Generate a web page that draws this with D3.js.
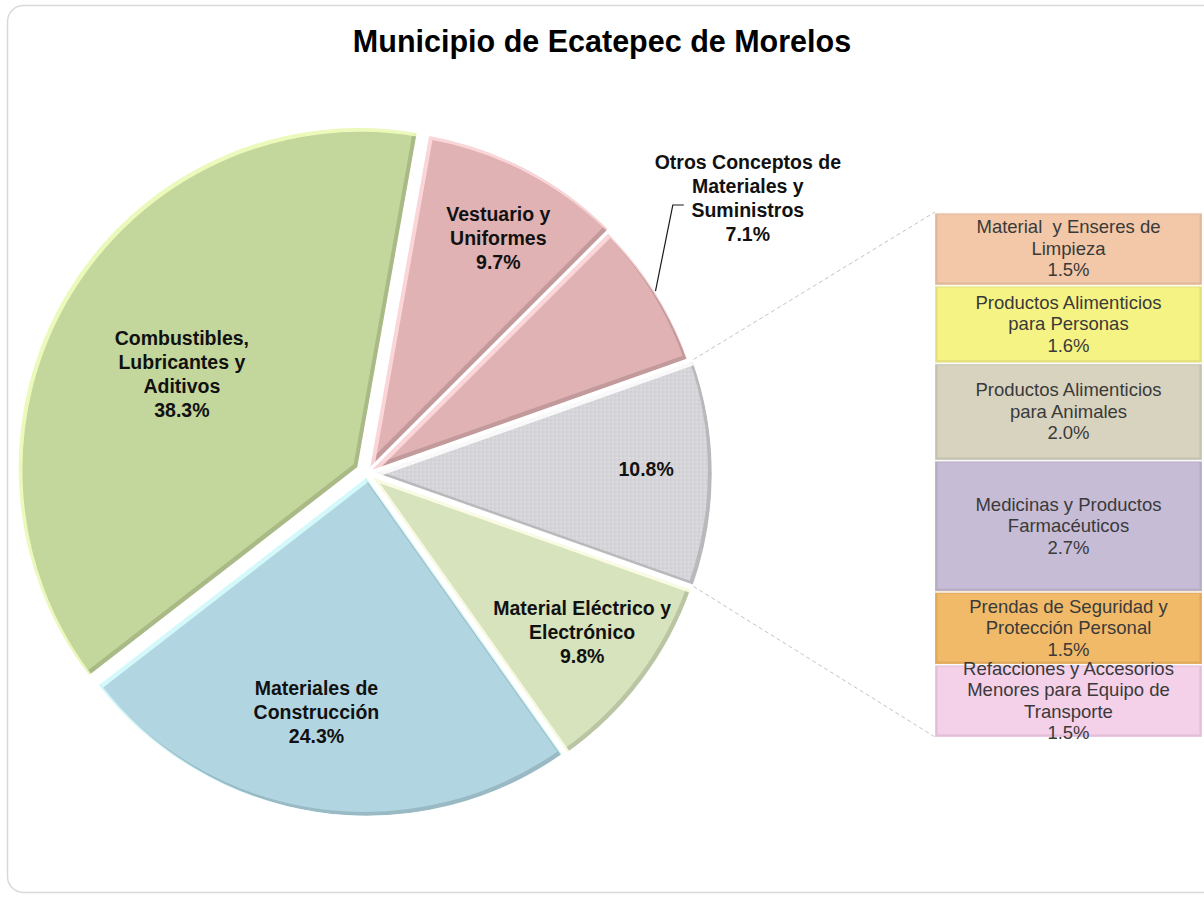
<!DOCTYPE html>
<html lang="es">
<head>
<meta charset="utf-8">
<title>Municipio de Ecatepec de Morelos</title>
<script src="https://cdn.jsdelivr.net/npm/d3@7"></script>
<style>
  html, body { margin: 0; padding: 0; background: #ffffff; }
  svg { display: block; }
  text { font-family: "Liberation Sans", Arial, Helvetica, sans-serif; }
</style>
</head>
<body>
<svg id="chart" width="1204" height="901"></svg>
<script>
// ---- Data ----------------------------------------------------------------
const chartTitle = "Municipio de Ecatepec de Morelos";

// Main pie (percent of total); the "Otros" slice is broken out in the bar
const pieCategories = [
  "Combustibles, Lubricantes y Aditivos",
  "Vestuario y Uniformes",
  "Otros Conceptos de Materiales y Suministros",
  "Otros",
  "Material Eléctrico y Electrónico",
  "Materiales de Construcción"
];
const pieLabelLines = [
  ["Combustibles,", "Lubricantes y", "Aditivos"],
  ["Vestuario y", "Uniformes"],
  ["Otros Conceptos de", "Materiales y", "Suministros"],
  [],
  ["Material Eléctrico y", "Electrónico"],
  ["Materiales de", "Construcción"]
];
const pieValues = [38.3, 9.7, 7.1, 10.8, 9.8, 24.3];
const splitIndex = 3;   // slice expanded into the stacked bar

// Breakdown of the split slice
const barCategories = [
  "Material y Enseres de Limpieza",
  "Productos Alimenticios para Personas",
  "Productos Alimenticios para Animales",
  "Medicinas y Productos Farmacéuticos",
  "Prendas de Seguridad y Protección Personal",
  "Refacciones y Accesorios Menores para Equipo de Transporte"
];
const barLabelLines = [
  ["Material  y Enseres de", "Limpieza"],
  ["Productos Alimenticios", "para Personas"],
  ["Productos Alimenticios", "para Animales"],
  ["Medicinas y Productos", "Farmacéuticos"],
  ["Prendas de Seguridad y", "Protección Personal"],
  ["Refacciones y Accesorios", "Menores para Equipo de", "Transporte"]
];
const barValues = [1.5, 1.6, 2.0, 2.7, 1.5, 1.5];

// ---- Styling / layout ----------------------------------------------------
const pieColors = ["#c3d69b", "#e0b2b3", "#e0b2b3", "#d5d5d9", "#d6e3bc", "#b1d6e1"];
const barColors = ["#f2c8a9", "#f5f384", "#d7d3bf", "#c6bcd6", "#f1ba69", "#f4d0e9"];
const explode = [10, 3, 0, 5, 4, 3];
// label anchor: fraction of radius along slice middle, plus nudges
const labelPlace = [
  { f: 0.605, dx: 0, dy: 13 },
  { f: 0.767, dx: 9, dy: 0 },
  { f: 1.32, dx: 0, dy: -35 },
  { f: 0.804, dx: 0, dy: -4 },
  { f: 0.779, dx: 0, dy: -4 },
  { f: 0.70, dx: -15, dy: 0 }
];

const W = 1204, H = 901;
const cx = 367, cy = 473, R = 341;
const bar = { x0: 935, x1: 1202, y0: 212, y1: 737 };

const svg = d3.select("#chart");
const defs = svg.append("defs");

// chart area frame
svg.append("rect")
  .attr("x", 7.5).attr("y", 5.5).attr("width", 1220).attr("height", 887)
  .attr("rx", 16).attr("fill", "#ffffff").attr("stroke", "#d9d9d9").attr("stroke-width", 1.5);

// title
svg.append("text")
  .attr("x", 602).attr("y", 52)
  .attr("text-anchor", "middle")
  .attr("font-size", 30.5).attr("font-weight", "bold").attr("fill", "#000")
  .text(chartTitle);

// dotted texture for the split slice
const pat = defs.append("pattern").attr("id", "dots")
  .attr("width", 4).attr("height", 4).attr("patternUnits", "userSpaceOnUse");
pat.append("rect").attr("width", 4).attr("height", 4).attr("fill", pieColors[splitIndex]);
pat.append("circle").attr("cx", 1).attr("cy", 1).attr("r", 0.7).attr("fill", "#e6e6ea");
pat.append("circle").attr("cx", 3).attr("cy", 3).attr("r", 0.6).attr("fill", "#c8c8cc");

// ---- Pie -------------------------------------------------------------------
const total = d3.sum(pieValues);
const before = d3.sum(pieValues.slice(0, splitIndex));
// rotate so the split slice is centred on the right-hand side
const a0 = Math.PI / 2 - 2 * Math.PI * (before + pieValues[splitIndex] / 2) / total;

const pie = d3.pie().sort(null).value(d => d).startAngle(a0).endAngle(a0 + 2 * Math.PI);
const arcs = pie(pieValues);
const arcGen = d3.arc().innerRadius(0).outerRadius(R);

const pieG = svg.append("g").attr("transform", `translate(${cx},${cy})`);

const mid = d => (d.startAngle + d.endAngle) / 2;
const offset = (d, i) => {
  const m = mid(d);
  return [Math.sin(m) * explode[i], -Math.cos(m) * explode[i]];
};

arcs.forEach((d, i) => {
  const [ox, oy] = offset(d, i);
  const g = pieG.append("g").attr("transform", `translate(${ox},${oy})`);
  const path = arcGen(d);
  const base = d3.color(pieColors[i]);
  const clipId = "clip" + i;
  defs.append("clipPath").attr("id", clipId)
    .attr("transform", `translate(${cx + ox},${cy + oy})`)
    .append("path").attr("d", path);

  g.append("path").attr("d", path)
    .attr("fill", i === splitIndex ? "url(#dots)" : pieColors[i]);

  // bevel: light rim on upper-left edges, dark rim on lower-right edges
  const bevel = g.append("g").attr("clip-path", `url(#${clipId})`)
    .attr("transform", `translate(${-cx - ox},${-cy - oy})`);
  bevel.append("path").attr("d", path)
    .attr("transform", `translate(${cx + ox - 2},${cy + oy - 2})`)
    .attr("fill", "none").attr("stroke", base.darker(0.55)).attr("stroke-width", 6).attr("stroke-opacity", 0.75);
  bevel.append("path").attr("d", path)
    .attr("transform", `translate(${cx + ox + 2},${cy + oy + 2})`)
    .attr("fill", "none").attr("stroke", base.brighter(0.6)).attr("stroke-width", 6).attr("stroke-opacity", 0.85);

  g.append("path").attr("d", path)
    .attr("fill", "none").attr("stroke", "#ffffff").attr("stroke-width", 2.5)
    .attr("stroke-linejoin", "round");
});

// ---- Pie labels ------------------------------------------------------------
const fmt = v => d3.format(".1f")(v) + "%";
const rowH = 24;
arcs.forEach((d, i) => {
  const [ox, oy] = offset(d, i);
  const p = labelPlace[i];
  const r = R * p.f;
  const [lx, ly] = d3.arc().innerRadius(r).outerRadius(r).centroid(d);
  const x = cx + lx + ox + p.dx;
  const y = cy + ly + oy + p.dy;
  const lines = pieLabelLines[i].concat([fmt(pieValues[i])]);
  const t = svg.append("text")
    .attr("text-anchor", "middle")
    .attr("font-size", 19.5).attr("font-weight", "bold").attr("fill", "#111");
  lines.forEach((s, k) => {
    t.append("tspan").attr("x", x)
      .attr("y", y - (lines.length - 1) * rowH / 2 + k * rowH)
      .attr("dominant-baseline", "central").text(s);
  });

  // leader for the label placed outside the pie
  if (p.f > 1) {
    const m = mid(d);
    const sx = cx + ox + Math.sin(m) * R, sy = cy + oy - Math.cos(m) * R;
    const ey = y - (lines.length - 1) * rowH / 2 + 2 * rowH - 5;
    const ex = x - 75;
    svg.append("path")
      .attr("d", d3.line()([[sx, sy], [ex, ey], [ex + 11, ey]]))
      .attr("fill", "none").attr("stroke", "#1a1a1a").attr("stroke-width", 1.2);
  }
});

// ---- Stacked bar -------------------------------------------------------------
const barSum = d3.sum(barValues);
const yBar = d3.scaleLinear().domain([0, barSum]).range([bar.y0, bar.y1]);
const cum = d3.cumsum(barValues);
const barG = svg.append("g");
barValues.forEach((v, i) => {
  const top = yBar(cum[i] - v), bot = yBar(cum[i]);
  const base = d3.color(barColors[i]);
  barG.append("rect")
    .attr("x", bar.x0).attr("y", top).attr("width", bar.x1 - bar.x0).attr("height", bot - top)
    .attr("fill", barColors[i]);
  // bevel edges
  barG.append("rect")
    .attr("x", bar.x0 + 1.5).attr("y", top + 1.5).attr("width", bar.x1 - bar.x0 - 3).attr("height", bot - top - 3)
    .attr("fill", "none").attr("stroke", base.darker(0.35)).attr("stroke-width", 2).attr("stroke-opacity", 0.7);
  barG.append("line")
    .attr("x1", bar.x0).attr("x2", bar.x1).attr("y1", top + 0.75).attr("y2", top + 0.75)
    .attr("stroke", "#ffffff").attr("stroke-width", 1.5).attr("stroke-opacity", 0.9);

  const lines = barLabelLines[i].concat([fmt(v)]);
  const cyT = (top + bot) / 2;
  const t = barG.append("text").attr("text-anchor", "middle")
    .attr("font-size", 18.5).attr("fill", "#3a3a3a");
  lines.forEach((s, k) => {
    t.append("tspan").attr("x", (bar.x0 + bar.x1) / 2)
      .attr("y", cyT - (lines.length - 1) * 21.5 / 2 + k * 21.5)
      .attr("dominant-baseline", "central").attr("xml:space", "preserve").text(s);
  });
});

// ---- Connectors from split slice to bar ------------------------------------
{
  const d = arcs[splitIndex];
  const [ox, oy] = offset(d, splitIndex);
  const pts = [
    [d.startAngle, bar.y0],
    [d.endAngle, bar.y1]
  ];
  pts.forEach(([a, by]) => {
    const sx = cx + ox + Math.sin(a) * R, sy = cy + oy - Math.cos(a) * R;
    svg.append("line")
      .attr("x1", sx).attr("y1", sy).attr("x2", bar.x0).attr("y2", by)
      .attr("stroke", "#c4c4c4").attr("stroke-width", 1).attr("stroke-dasharray", "4,3");
  });
}
</script>
</body>
</html>
